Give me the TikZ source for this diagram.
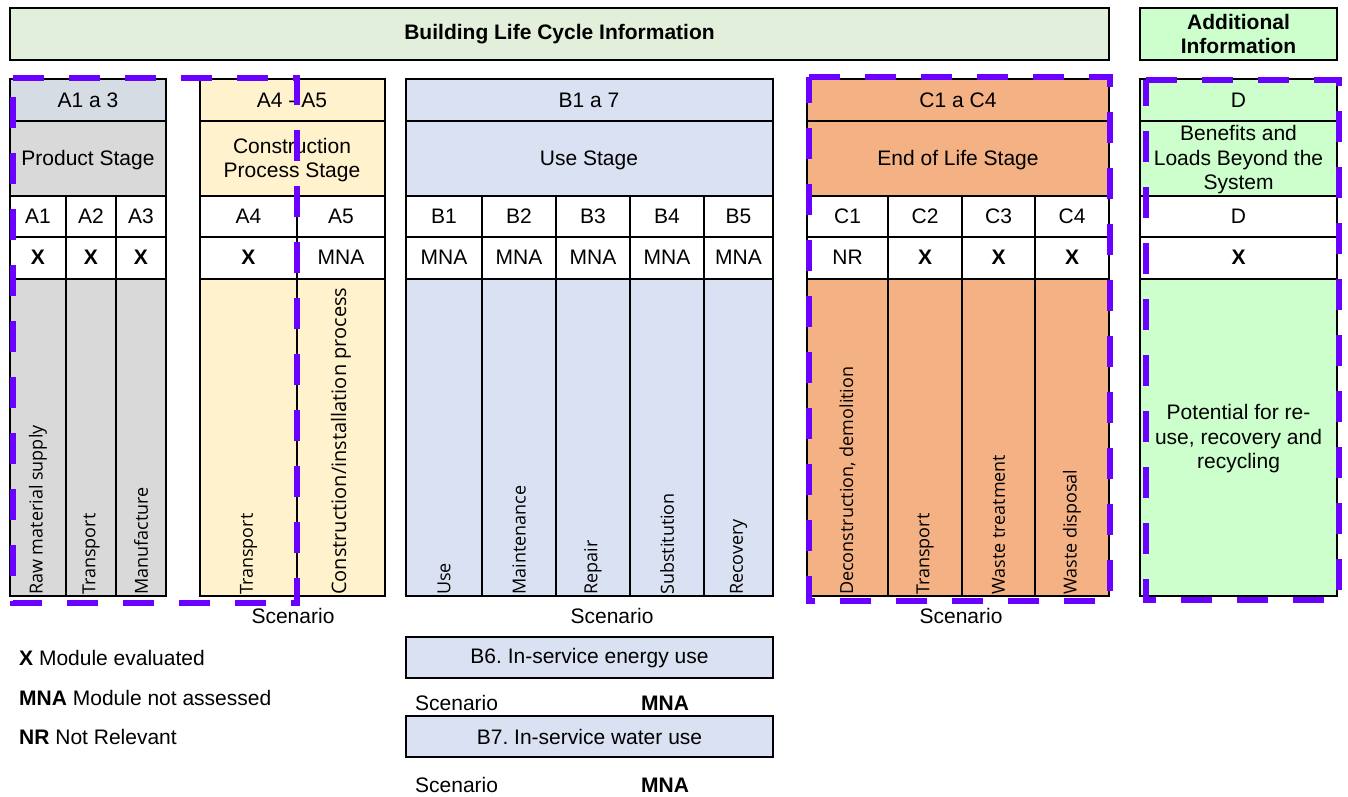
\documentclass[tikz,border=0pt]{standalone}
\usepackage{fontspec}
\setmainfont{Liberation Sans}
\newfontfamily\vertfont{Open Sans}
\usetikzlibrary{positioning}

\definecolor{hdrgreen}{HTML}{E2EFDA}
\definecolor{addgreen}{HTML}{CCFFCC}
\definecolor{prodtop}{HTML}{D6DCE4}
\definecolor{prodgrey}{HTML}{D9D9D9}
\definecolor{constr}{HTML}{FFF2CC}
\definecolor{useblue}{HTML}{D9E1F2}
\definecolor{eolorange}{HTML}{F4B183}
\definecolor{cutpurple}{HTML}{6A00FF}

\newcommand{\evalX}{\textbf{X}}
\frenchspacing

\begin{document}
\begin{tikzpicture}[x=1pt,y=-1pt,
    cell/.style={draw=black, line width=2pt},
    lbl/.style={font=\fontsize{21}{24.5}\selectfont, align=center, inner sep=0pt},
    vlbl/.style={font=\vertfont\fontsize{18}{20}\selectfont, rotate=90, anchor=west, inner sep=1pt},
    cutline/.style={draw=cutpurple, line width=6pt, dash pattern=on 31pt off 25pt}]
  \useasboundingbox (0,0) rectangle (1348,796);

  % headers
  \filldraw[fill=hdrgreen, cell] (10,8) rectangle (1109,60);
  \filldraw[fill=addgreen, cell] (1140,8) rectangle (1337,60);
  \node[lbl, font=\fontsize{21}{24.5}\selectfont\bfseries] (blci) at (559.5,34) {Building Life Cycle Information};
  \node[lbl, font=\fontsize{21}{24.5}\selectfont\bfseries] (addinfo) at (1238.5,34) {Additional\\Information};

  % stage blocks
  \foreach \l/\r/\ctop/\cmid in {10/166/prodtop/prodgrey, 200/385/constr/constr,
      406/773/useblue/useblue, 807/1109/eolorange/eolorange, 1140/1337/addgreen/addgreen} {
    \fill[\ctop] (\l,79) rectangle (\r,121);
    \fill[\cmid] (\l,121) rectangle (\r,196);
    \fill[white] (\l,196) rectangle (\r,279);
    \fill[\cmid] (\l,279) rectangle (\r,596);
    \foreach \y in {121,196,237,279}
      \draw[cell] (\l,\y) -- (\r,\y);
    \draw[cell] (\l,79) rectangle (\r,596);
  }
  \foreach \x in {66,116,297,482,556,630,704,888,962,1035}
    \draw[cell] (\x,196) -- (\x,596);

  % stage codes and names
  \foreach \x/\c/\n [count=\i] in {88/A1 a 3/Product Stage, 292/A4 - A5/Construction\\Process Stage,
      589/B1 a 7/Use Stage, 958/C1 a C4/End of Life Stage, 1238.5/D/Benefits and\\Loads Beyond the\\System} {
    \node[lbl] (code\i) at (\x,100) {\c};
    \node[lbl] (stage\i) at (\x,160) {\n};
  }

  % modules
  \foreach \x/\m/\s/\d [count=\i] in {38/A1/\evalX/Raw material supply, 91/A2/\evalX/Transport,
      141/A3/\evalX/Manufacture, 248.5/A4/\evalX/Transport, 341/A5/MNA/{\fontsize{20}{22}\selectfont Construction\slash installation process},
      444/B1/MNA/Use, 519/B2/MNA/Maintenance, 593/B3/MNA/Repair, 667/B4/MNA/Substitution,
      738.5/B5/MNA/Recovery, 847.5/C1/NR/{Deconstruction, demolition}, 925/C2/\evalX/Transport,
      998.5/C3/\evalX/Waste treatment, 1072/C4/\evalX/Waste disposal} {
    \node[lbl] (mod\i) at (\x,216) {\m};
    \node[lbl] (stat\i) at (\x,257) {\s};
    \node[vlbl] (desc\i) at (\x,596) {\d};
  }
  \node[lbl] (modD) at (1238.5,216) {D};
  \node[lbl] (statD) at (1238.5,257) {\evalX};
  \node[lbl] (descD) at (1238.5,439) {Potential for re-\\use, recovery and\\recycling};

  % scenario labels
  \node[lbl] (scenA) at (293,616) {Scenario};
  \node[lbl] (scenB) at (612,616) {Scenario};
  \node[lbl] (scenC) at (961,616) {Scenario};

  % legend
  \node[lbl, anchor=west] (legX) at (19,658) {\textbf{X} Module evaluated};
  \node[lbl, anchor=west] (legMNA) at (19,698) {\textbf{MNA} Module not assessed};
  \node[lbl, anchor=west] (legNR) at (19,737) {\textbf{NR} Not Relevant};

  % B6 and B7
  \filldraw[fill=useblue, cell] (406,637) rectangle (773,678);
  \node[lbl] (bsix) at (589.5,658) {B6. In-service energy use};
  \node[lbl, anchor=west] (scenBsix) at (415,703) {Scenario};
  \node[lbl] (mnaBsix) at (665,703) {\textbf{MNA}};
  \filldraw[fill=useblue, cell] (406,716) rectangle (773,757);
  \node[lbl] (bseven) at (589.5,737) {B7. In-service water use};
  \node[lbl, anchor=west] (scenBseven) at (415,785) {Scenario};
  \node[lbl] (mnaBseven) at (665,785) {\textbf{MNA}};

  % dashed outlines
  \draw[cutline] (13,78) -- (297,78) -- (297,603) -- (13,603) -- cycle;
  \draw[cutline] (809,77) -- (1110,77) -- (1110,601) -- (809,601) -- cycle;
  \draw[cutline] (1146,80) -- (1339,80) -- (1339,600) -- (1146,600) -- cycle;
\end{tikzpicture}
\end{document}
